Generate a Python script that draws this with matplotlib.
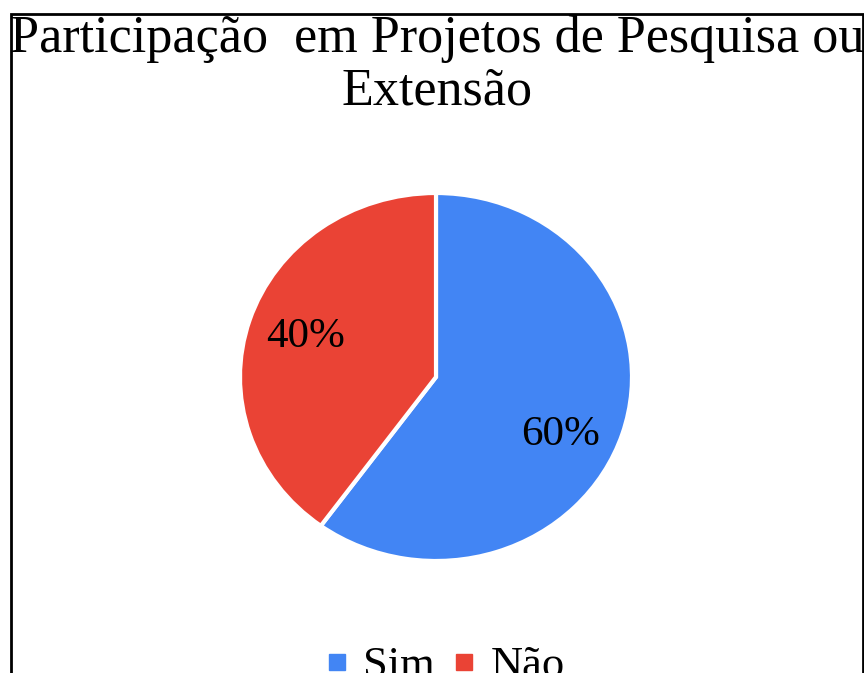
import matplotlib.pyplot as plt
from matplotlib.patches import Rectangle
from matplotlib.lines import Line2D

# Data
labels = ['Sim', 'Não']
values = [60, 40]
colors = ['#4285F4', '#EA4335']
title = 'Participação  em Projetos de Pesquisa ou\nExtensão'

W, H = 864, 673
fig = plt.figure(figsize=(W / 100, H / 100), dpi=100)
plt.rcParams['font.family'] = ['Liberation Serif', 'DejaVu Serif']

# outer frame (bottom cut off)
fig.patches.append(Rectangle((11 / W, -0.05), (863 - 11) / W, 1.05 - 14 / H,
                             transform=fig.transFigure, fill=False,
                             edgecolor='black', linewidth=2))

# pie area in pixel box
cx, cy, rx, ry = 436, 377, 196, 184
ax = fig.add_axes([(cx - rx) / W, 1 - (cy + ry) / H, 2 * rx / W, 2 * ry / H])
wedges, texts, autotexts = ax.pie(values, colors=colors, startangle=90,
                                  counterclock=False, autopct='%1.0f%%',
                                  pctdistance=0.7, radius=1.0,
                                  wedgeprops=dict(edgecolor='white', linewidth=3),
                                  textprops=dict(fontsize=31, color='black'))
ax.set_aspect('auto')
ax.set_xlim(-1, 1)
ax.set_ylim(-1, 1)
# nudge the big-slice label a bit lower, like the original
x0, y0 = autotexts[0].get_position()
autotexts[0].set_position((x0 - 0.03, y0 - 0.1))

fig.text(437 / W, 1 - 15 / H, title, ha='center', va='top',
         fontsize=37.5, linespacing=1.12)

handles = [Line2D([], [], marker='s', linestyle='none', markersize=11,
                  color=c) for c in colors]
fig.legend(handles, labels, loc='upper center', ncol=2,
           bbox_to_anchor=(444 / W, 1 - 606 / H), frameon=False,
           fontsize=32, handletextpad=0.3, columnspacing=0.35,
           handlelength=0.6)

fig.savefig('out.png', dpi=100)
